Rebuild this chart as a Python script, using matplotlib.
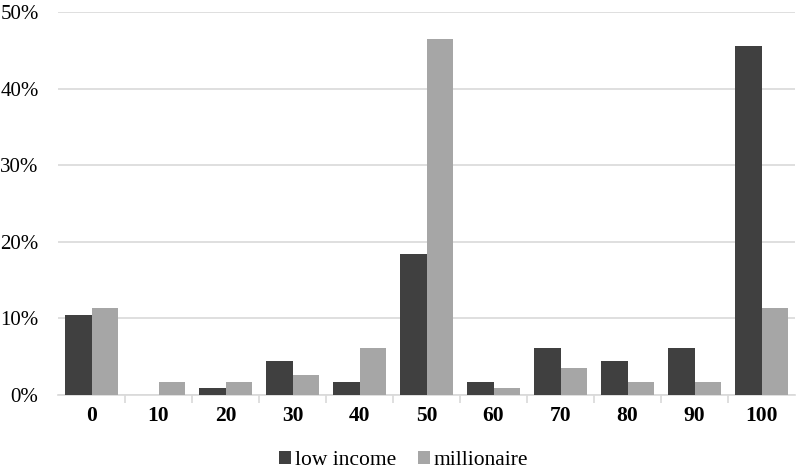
import numpy as np
import matplotlib.pyplot as plt
from matplotlib.ticker import FuncFormatter

categories = ['0', '10', '20', '30', '40', '50', '60', '70', '80', '90', '100']
low_income = [10.5, 0.0, 0.9, 4.4, 1.7, 18.4, 1.7, 6.1, 4.4, 6.1, 45.6]
millionaire = [11.4, 1.7, 1.7, 2.6, 6.1, 46.5, 0.9, 3.5, 1.7, 1.7, 11.4]

plt.rcParams['font.family'] = ['Liberation Serif', 'DejaVu Serif']

fig = plt.figure(figsize=(7.99, 4.74), dpi=100)
ax = fig.add_axes([0.0726, 0.1667, 0.9224, 0.807])

x = np.arange(len(categories))
w = 0.4
ax.bar(x - w / 2, low_income, w, color='#404040', label='low income', zorder=3)
ax.bar(x + w / 2, millionaire, w, color='#a6a6a6', label='millionaire', zorder=3)

ax.set_xlim(-0.5, len(categories) - 0.5)
ax.set_ylim(0, 50)
ax.set_yticks(range(0, 51, 10))
ax.yaxis.set_major_formatter(FuncFormatter(lambda v, p: '%d%%' % v))
ax.yaxis.grid(True, color='#d9d9d9', linewidth=1.2, zorder=0)

for s in ['top', 'right', 'left']:
    ax.spines[s].set_visible(False)
ax.spines['bottom'].set_color('#d9d9d9')
ax.spines['bottom'].set_linewidth(1.2)

ax.set_xticks(x)
ax.set_xticklabels(categories, fontweight='bold', fontsize=15.5)
ax.tick_params(axis='x', length=0, pad=8)
ax.set_xticks(np.arange(0.5, len(categories) - 1, 1), minor=True)
ax.tick_params(axis='x', which='minor', length=6, color='#d9d9d9', width=1.2)
ax.tick_params(axis='y', length=0, labelsize=15, pad=14)

ax.legend(loc='center', bbox_to_anchor=(0.469, -0.172), ncol=2, frameon=False,
          fontsize=15.5, handlelength=0.55, handleheight=0.55, handletextpad=0.2,
          columnspacing=1.0)

fig.savefig('out.png', dpi=100)
